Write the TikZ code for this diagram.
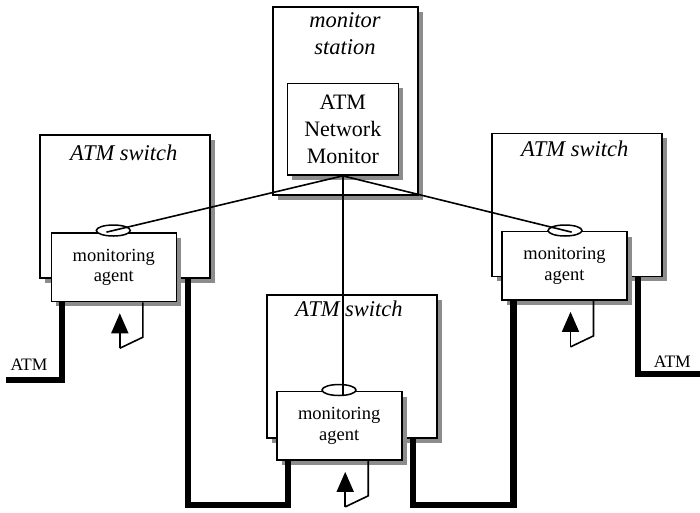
\documentclass[tikz,border=0pt]{standalone}
\usepackage{fontspec}
\setmainfont{Liberation Serif}
\usetikzlibrary{arrows.meta,shadows,calc,shapes.geometric}
\begin{document}
\begin{tikzpicture}[x=1pt,y=-1pt,
  box/.style={draw,fill=white,line width=1.6pt,rectangle,inner sep=0pt,
    drop shadow={shadow xshift=5pt,shadow yshift=-5pt,fill=black!45,opacity=1}},
  switchbox/.style={box,minimum width=170pt,minimum height=143pt},
  agentbox/.style={box,minimum width=125pt,minimum height=68.5pt,align=center,
    font=\fontsize{18.5}{20.5}\selectfont},
  title/.style={font=\fontsize{22.5}{27}\selectfont\itshape,inner sep=0pt,anchor=base},
  port/.style={ellipse,draw,fill=white,line width=1.5pt,minimum width=34pt,
    minimum height=11pt,inner sep=0pt},
  link/.style={line width=1.6pt},
  atm/.style={line width=6.5pt,line join=miter},
  loopline/.style={line width=1.6pt},
  fb/.style={line width=1.6pt,-{Triangle[length=20pt,width=17pt]}},
  atmlabel/.style={font=\fontsize{17.5}{20}\selectfont,inner sep=0pt,anchor=base}]
\useasboundingbox (0,0) rectangle (700,512);

% monitor station
\node[box,minimum width=145pt,minimum height=188pt] (station) at (345.2,101) {};
\node[title,anchor=center,align=center] (stitle) at (345,34) {monitor\\station};
\node[box,minimum width=111pt,minimum height=91.7pt,align=center,
  font=\fontsize{22}{26.7}\selectfont] (anm) at (342.8,129.2) {ATM\\Network\\Monitor};

% switches
\node[switchbox] (swL) at (124.7,206.5) {};
\node[switchbox] (swC) at (351.7,366.5) {};
\node[switchbox] (swR) at (577.2,204.8) {};
\node[title] (tL) at (123.8,160) {ATM switch};
\node[title] (tC) at (349,316.7) {ATM switch};
\node[title] (tR) at (574.7,156.7) {ATM switch};

% agents
\node[agentbox] (agL) at (113.8,267.2) {monitoring\\agent};
\node[agentbox] (agC) at (339.2,425.8) {monitoring\\agent};
\node[agentbox] (agR) at (564.5,265.8) {monitoring\\agent};

% ports
\node[port] (pL) at (113.3,230.5) {};
\node[port] (pC) at (339,390) {};
\node[port] (pR) at (565,230.5) {};

% monitor links
\draw[link] (anm.south) -- ($(anm.south)!1.03!(pL.center)$);
\draw[link] (anm.south) -- ($(anm.south)!1.03!(pR.center)$);
\draw[link] (anm.south) -- (anm.south |- pC.south);

% ATM links
\coordinate (atmLend) at (6,380);
\coordinate (atmRend) at (700,374);
\draw[atm] ($(agL.south)+(-52,0)$) |- (atmLend);
\draw[atm] ($(swL.south)+(63.3,0)$) -- ++(0,226) -| ($(agC.south)+(-51,0)$);
\draw[atm] ($(swC.south)+(61.3,0)$) -- ++(0,66) -| ($(agR.south)+(-51.2,0)$);
\draw[atm] ($(swR.south)+(60.8,0)$) |- (atmRend);

% feedback loops
\foreach \a in {agL,agC,agR}{
  \draw[loopline] ($(\a.south)+(29,0)$) -- ++(0,35) -- ($(\a.south)+(6,46)$);
  \draw[fb] ($(\a.south)+(6,46)$) -- ($(\a.south)+(6,11)$);
}

\node[atmlabel] (lblL) at (29,370.7) {ATM};
\node[atmlabel] (lblR) at (672.3,367) {ATM};
\end{tikzpicture}
\end{document}
